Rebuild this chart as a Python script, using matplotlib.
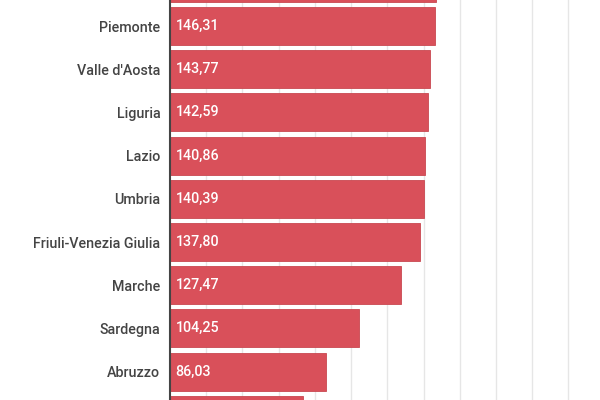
import matplotlib
matplotlib.use('Agg')
import matplotlib.pyplot as plt

plt.rcParams['font.family'] = ['Roboto', 'DejaVu Sans']

# rows from top to bottom; first and last rows are cut off by the crop
regions = ['Lombardia', 'Piemonte', "Valle d'Aosta", 'Liguria', 'Lazio', 'Umbria',
           'Friuli-Venezia Giulia', 'Marche', 'Sardegna', 'Abruzzo', 'Molise']
values = [147.10, 146.31, 143.77, 142.59, 140.86, 140.39,
          137.80, 127.47, 104.25, 86.03, 73.30]
value_labels = ['147,10', '146,31', '143,77', '142,59', '140,86', '140,39',
                '137,80', '127,47', '104,25', '86,03', '73,30']
grid_ticks = [20, 40, 60, 80, 100, 120, 140, 160, 180, 200, 220]

bar_color = '#d9505a'
y_top, y_bottom = 0.398, 9.657

fig = plt.figure(figsize=(6, 4), dpi=100)
ax = fig.add_axes([170 / 600, 0, 430 / 600, 1])

pos = list(range(len(regions)))
ax.barh(pos, values, height=0.88, color=bar_color, edgecolor='#c94851',
        linewidth=0.6, zorder=2)

# value labels only for rows that are inside the visible window
for p, v, lab in zip(pos, values, value_labels):
    if y_top < p < y_bottom:
        ax.text(3, p, lab, color='white', fontsize=10.3, fontweight='medium',
                va='center', ha='left', zorder=3, clip_on=True)

ax.set_xticks(grid_ticks)
ax.tick_params(axis='x', length=0, labelbottom=False)
ax.grid(axis='x', color='#e6e6e6', linewidth=1, zorder=0)
ax.set_axisbelow(True)

ax.set_yticks(pos)
ax.set_yticklabels(regions, fontsize=10.3, fontweight='medium', color='#444444')
ax.tick_params(axis='y', length=0, pad=7)

# limits after the ticks, so the crop of first and last row stays
ax.set_xlim(0, 237.4)
ax.set_ylim(y_bottom, y_top)

for side in ['top', 'right', 'bottom']:
    ax.spines[side].set_visible(False)
ax.spines['left'].set_color('#444444')
ax.spines['left'].set_linewidth(1.5)
ax.spines['left'].set_zorder(4)

fig.savefig('out.png', dpi=100)
